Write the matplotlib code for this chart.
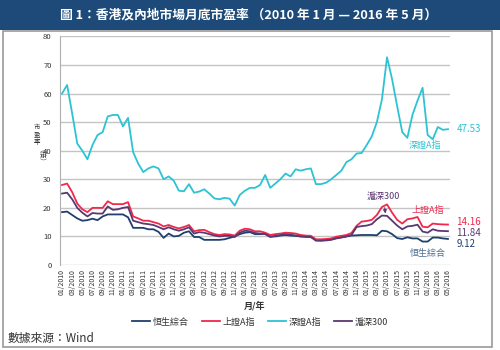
import matplotlib
matplotlib.use('Agg')
import matplotlib.pyplot as plt
from matplotlib.patches import Rectangle

plt.rcParams['font.family'] = ['Noto Sans CJK TC', 'DejaVu Sans']

# monthly data 01/2010 - 05/2016
months = []
for y in range(2010, 2017):
    for m in range(1, 13):
        if y == 2016 and m > 5:
            break
        months.append('%02d/%d' % (m, y))

hsci = [18.5, 18.7, 17.5, 16.3, 15.5, 15.7, 16.2, 15.7, 17, 17.7, 17.7, 17.7, 17.7, 16.7, 13, 13, 13, 12.5, 12.5, 11.6,
        9.5, 11, 10, 10.2, 11.3, 11.8, 9.8, 9.8, 8.8, 8.8, 8.8, 8.8, 9, 9.5, 10, 10.8, 11.3, 11.5, 10.8, 10.8,
        11, 10, 10, 10.3, 10.5, 10.3, 10.2, 10, 10, 9.8, 8.8, 8.6, 8.8, 9, 9.4, 9.7, 10, 10.3, 10.4, 10.5,
        10.5, 10.5, 10.4, 12, 11.8, 10.8, 9.4, 9.1, 9.7, 9.3, 9.3, 8.2, 8.2, 9.6, 9.6, 9.3, 9.12]
sha = [28, 28.5, 25.5, 21.5, 19.5, 18.5, 20, 20, 20, 22.3, 21.3, 21.3, 21.3, 22, 17, 16.3, 15.5, 15.5, 15, 14.5,
       13.5, 14, 13.3, 12.8, 13.3, 14, 11.8, 12.2, 12.3, 11.5, 10.8, 10.5, 10.8, 10.7, 10.3, 12, 12.7, 12.5, 11.8, 11.8,
       11.3, 10.5, 10.8, 11, 11.3, 11.2, 11, 10.5, 10.3, 10.2, 9.0, 9.0, 9.1, 9.3, 9.9, 10.2, 10.5, 11.2, 13.7, 15.2,
       15.4, 15.8, 17.5, 20.3, 21.2, 18.3, 15.8, 14.5, 16, 16.3, 16.8, 13.4, 13.2, 14.5, 14.3, 14.2, 14.16]
sza = [60, 63, 53, 42.5, 40, 37, 42, 45.5, 46.5, 52, 52.5, 52.5, 48.5, 51.5, 39.5, 35.5, 32.5, 33.8, 34.5, 33.8,
       30, 31, 29.5, 26, 25.8, 28.3, 25.3, 25.7, 26.5, 25, 23.3, 23, 23.5, 23.2, 20.8, 24.5, 26, 27, 27, 28,
       31.5, 27, 28.5, 30, 32, 31, 33.5, 33, 33.5, 33.8, 28.3, 28.3, 28.8, 30, 31.5, 33, 36, 37, 39, 39.2,
       42, 45, 50, 58, 72.7, 65, 55.5, 46.5, 44.5, 52.5, 57.5, 62, 45.5, 44, 48.3, 47.3, 47.53]
csi300 = [25, 25.3, 23, 20, 18.3, 17, 18.2, 18, 18, 20.5, 19.3, 19.5, 20, 20.3, 15.5, 15, 14.5, 14.3, 14, 13.3,
          12.5, 13.2, 12.5, 12, 12.5, 13.2, 11, 11.5, 11.3, 10.8, 10.3, 10, 10.2, 10.2, 9.8, 11.3, 12, 11.8, 11.2, 11,
          10.8, 9.8, 10.2, 10.5, 10.8, 10.6, 10.3, 10, 9.8, 9.8, 8.5, 8.5, 8.6, 8.8, 9.3, 9.6, 10, 10.5, 13.3, 13.6,
          13.8, 14.3, 16, 17.3, 17.2, 15.5, 13.8, 12.5, 13.5, 13.7, 14.1, 11.7, 11.3, 12.5, 12, 11.9, 11.84]

names = ['恒生綜合', '上證A指', '深證A指', '滬深300']
c_navy = '#1f3f6e'
c_red = '#f0284c'
c_cyan = '#2cc3d3'
c_purple = '#5a3870'

fig = plt.figure(figsize=(5, 3.5), dpi=100)

# title bar and frame
fig.patches.append(Rectangle((0, 1 - 30 / 350), 1, 30 / 350, transform=fig.transFigure,
                             facecolor='#1d4a78', edgecolor='none'))
fig.patches.append(Rectangle((3 / 500, 3 / 350), 489 / 500, 316 / 350, transform=fig.transFigure,
                             facecolor='none', edgecolor='#9a9a9a', lw=1.2))
fig.text(0.497, 1 - 15 / 350, '圖 1：香港及內地市場月底市盈率 （2010 年 1 月 — 2016 年 5 月）',
         color='white', fontsize=9.2, fontweight='bold', ha='center', va='center')

ax = fig.add_axes([60 / 500, 1 - 265 / 350, 390 / 500, 228.6 / 350])
x = list(range(len(months)))
ax.plot(x, hsci, color=c_navy, lw=1.3, label=names[0])
ax.plot(x, sha, color=c_red, lw=1.3, label=names[1])
ax.plot(x, sza, color=c_cyan, lw=1.3, label=names[2])
ax.plot(x, csi300, color=c_purple, lw=1.3, label=names[3])

ax.set_xlim(-0.4, len(months) - 0.6)
ax.set_ylim(0, 80)
ax.set_yticks(range(0, 81, 10))
ax.yaxis.grid(True, color='#c4c4c4', lw=1)
ax.set_axisbelow(True)
ax.set_xticks(x[::2])
ax.set_xticklabels(months[::2], rotation=90, fontsize=5, color='#333333')
ax.tick_params(axis='y', labelsize=5.5, colors='#333333', length=0, pad=6)
ax.tick_params(axis='x', length=0, pad=3)
for s in ['top', 'right', 'bottom']:
    ax.spines[s].set_visible(False)
ax.spines['left'].set_color('#b0b0b0')

ax.set_xlabel('月/年', fontsize=6.5, fontweight='bold', color='#333333', labelpad=4)

# stacked y label
for i, ch in enumerate('市盈率'):
    fig.text(37 / 500, 1 - (127 + i * 7.5) / 350, ch, fontsize=4.6, color='#333333',
             ha='center', va='center')
fig.text(37 / 500, 1 - 159 / 350, '（倍）', fontsize=4.8, color='#333333',
         ha='center', va='center', rotation=270)

# end labels
last = len(months) - 1
ax.annotate('%.2f' % sza[-1], (last, sza[-1]), xytext=(6, 0), textcoords='offset points',
            color=c_cyan, fontsize=7, va='center')
ax.annotate('%.2f' % sha[-1], (last, sha[-1]), xytext=(6, 1.5), textcoords='offset points',
            color=c_red, fontsize=7, va='center')
ax.annotate('%.2f' % csi300[-1], (last, csi300[-1]), xytext=(6, -1.5), textcoords='offset points',
            color=c_purple, fontsize=7, va='center')
ax.annotate('%.2f' % hsci[-1], (last, hsci[-1]), xytext=(6, -4), textcoords='offset points',
            color=c_navy, fontsize=7, va='center')

ax.text(71.5, 41.8, names[2], color=c_cyan, fontsize=6.5, ha='center', va='center')
ax.text(72, 19.2, names[1], color=c_red, fontsize=6.5, ha='center', va='center')
ax.text(72, 3.9, names[0], color='#4a6a94', fontsize=6.5, ha='center', va='center')
ax.annotate(names[3], xy=(63.7, 18.0), xytext=(63.2, 24.0), color=c_purple, fontsize=6.5,
            ha='center', va='center',
            arrowprops=dict(arrowstyle='-|>', color=c_purple, lw=0.8, mutation_scale=5,
                            shrinkA=3, shrinkB=0))

leg = fig.legend(loc='center', bbox_to_anchor=(0.52, 1 - 322 / 350), ncol=4, frameon=False,
                 fontsize=6.5, handlelength=2.0, columnspacing=1.4, handletextpad=0.3)
for t in leg.get_texts():
    t.set_color('#333333')

fig.text(8 / 500, 1 - 338 / 350, '數據來源：Wind', fontsize=8.5, color='#333333',
         ha='left', va='center')

fig.savefig('out.png', dpi=100)
